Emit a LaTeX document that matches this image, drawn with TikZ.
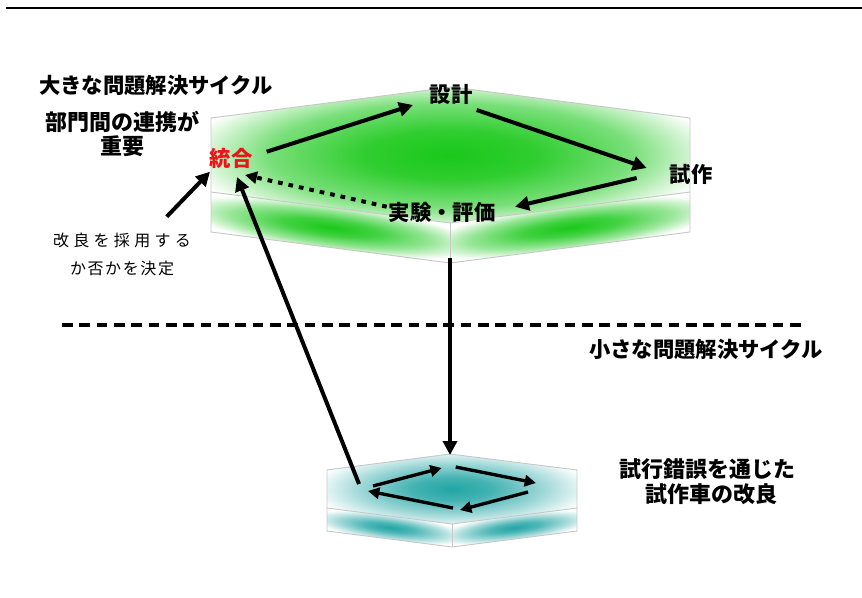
\documentclass[tikz,border=0pt]{standalone}
\usepackage{fontspec}
\setmainfont{Noto Sans CJK JP}
\newfontfamily\jpwide[LetterSpace=27]{Noto Sans CJK JP}
\newfontfamily\jpmid[LetterSpace=10]{Noto Sans CJK JP}
\usetikzlibrary{arrows.meta}
\definecolor{gC}{RGB}{25,200,25}
\definecolor{tC}{RGB}{35,165,165}
\definecolor{edgegray}{RGB}{200,200,200}
\definecolor{labred}{RGB}{235,20,25}
% the central 50bp square of a shading is fitted to the path's bounding box
\pgfdeclareradialshading{greentop}{\pgfpoint{0bp}{0bp}}{color(0bp)=(gC); color(9bp)=(gC!90!white); color(19bp)=(gC!58!white); color(28bp)=(white); color(50bp)=(white)}
\pgfdeclareradialshading{greenside}{\pgfpoint{0bp}{0bp}}{color(0bp)=(gC); color(10bp)=(gC!82!white); color(21bp)=(gC!45!white); color(31bp)=(white); color(50bp)=(white)}
\pgfdeclareradialshading{tealtop}{\pgfpoint{0bp}{0bp}}{color(0bp)=(tC); color(8bp)=(tC!85!white); color(18bp)=(tC!45!white); color(28bp)=(white); color(50bp)=(white)}
\pgfdeclareradialshading{tealside}{\pgfpoint{0bp}{0bp}}{color(0bp)=(tC); color(10bp)=(tC!80!white); color(21bp)=(tC!40!white); color(31bp)=(white); color(50bp)=(white)}
\tikzset{
  lab/.style={inner sep=0pt, font=\fontsize{16}{23}\selectfont\bfseries, align=center},
  labsm/.style={inner sep=0pt, font=\fontsize{12}{21}\selectfont, align=center},
  bigarrow/.style={line width=3pt, -{Triangle[length=10.5pt,width=10.5pt]}},
  dotarrow/.style={line width=3pt, dash pattern=on 3.5pt off 4.5pt, -{Triangle[length=9pt,width=9pt]}},
  smallarrow/.style={line width=2.5pt, -{Triangle[length=8.5pt,width=8.5pt]}},
  faceedge/.style={draw=edgegray, line width=0.7pt, line join=miter},
}
\begin{document}
\begin{tikzpicture}[x=0.75pt,y=-0.75pt]
\useasboundingbox (0,0) rectangle (862,598);
% top rule
\draw[line width=1.3pt] (6,8) -- (862,8);

% ---- big green prism ----
\shade[shading=greentop] (211,118) -- (452,87) -- (690,118) -- (690,192) -- (450,223) -- (211,192) -- cycle;
\begin{scope}[transform canvas={yslant=-0.1297}]
  \shade[shading=greenside] (211,164.6) rectangle (450,204.6);
\end{scope}
\begin{scope}[transform canvas={yslant=0.1297}]
  \shade[shading=greenside] (450,281.4) rectangle (690,321.4);
\end{scope}
\draw[faceedge] (211,118) -- (452,87) -- (690,118) -- (690,232) -- (450,263) -- (211,232) -- cycle;
\draw[faceedge] (211,192) -- (450,223) -- (690,192);
\draw[faceedge] (450,223) -- (450,263);

% ---- small teal prism ----
\shade[shading=tealtop] (327,470) -- (450,454) -- (577,470) -- (577,508) -- (452,524) -- (327,508) -- cycle;
\begin{scope}[transform canvas={yslant=-0.128}]
  \shade[shading=tealside] (327,466.14) rectangle (452,489.14);
\end{scope}
\begin{scope}[transform canvas={yslant=0.128}]
  \shade[shading=tealside] (452,581.86) rectangle (577,604.86);
\end{scope}
\draw[faceedge] (327,470) -- (450,454) -- (577,470) -- (577,531) -- (452,547) -- (327,531) -- cycle;
\draw[faceedge] (327,508) -- (452,524) -- (577,508);
\draw[faceedge] (452,524) -- (452,547);

% dashed separator
\draw[line width=3pt, dash pattern=on 8pt off 5pt] (62,325) -- (806,325);

% ---- text nodes ----
\node[lab] (bigcycle) at (156,85) {大きな問題解決サイクル};
\node[lab, font=\fontsize{16.5}{17.5}\selectfont\bfseries] (renkei) at (122,134) {部門間の連携が\\重要};
\node[lab, text=labred] (togo) at (231,158) {統合};
\node[lab] (sekkei) at (451,94) {設計};
\node[lab] (shisaku) at (691,174) {試作};
\node[lab] (jikken) at (442,212) {実験・評価};
\node[labsm] (kairyo) at (122,254) {{\jpwide 改良を採用する}\\{\jpmid か否かを決定}};
\node[lab] (smallcycle) at (706,349) {小さな問題解決サイクル};
\node[lab, font=\fontsize{16.5}{19}\selectfont\bfseries] (shiko) at (707,482) {試行錯誤を通じた\\\hspace*{7pt}試作車の改良};

% ---- arrow end points ----
\coordinate (a1s) at (266.7,151.7);
\coordinate (a1e) at (413,105);
\coordinate (a2s) at (476.7,110);
\coordinate (a2e) at (646.7,168);
\coordinate (a3s) at (636.7,178);
\coordinate (a3e) at (515,206.7);
\coordinate (a4s) at (386.7,206.7);
\coordinate (a4e) at (245,175);
\coordinate (a5s) at (450,258);
\coordinate (a5e) at (450,455);
\coordinate (a6s) at (359,484);
\coordinate (a6e) at (237,177);
\coordinate (a7s) at (166.7,216.7);
\coordinate (a7e) at (210,171.7);
\coordinate (s1s) at (373,486);
\coordinate (s1e) at (441.7,468);
\coordinate (s2s) at (455.7,467);
\coordinate (s2e) at (536,483);
\coordinate (s3s) at (528,492);
\coordinate (s3e) at (460,510);
\coordinate (s4s) at (453,508);
\coordinate (s4e) at (368,491);

% ---- arrows ----
\draw[bigarrow] (a1s) -- (a1e);
\draw[bigarrow] (a2s) -- (a2e);
\draw[bigarrow] (a3s) -- (a3e);
\draw[dotarrow] (a4s) -- (a4e);
\draw[bigarrow] (a5s) -- (a5e);
\draw[bigarrow] (a6s) -- (a6e);
\draw[bigarrow] (a7s) -- (a7e);
\draw[smallarrow] (s1s) -- (s1e);
\draw[smallarrow] (s2s) -- (s2e);
\draw[smallarrow] (s3s) -- (s3e);
\draw[smallarrow] (s4s) -- (s4e);
\end{tikzpicture}
\end{document}
